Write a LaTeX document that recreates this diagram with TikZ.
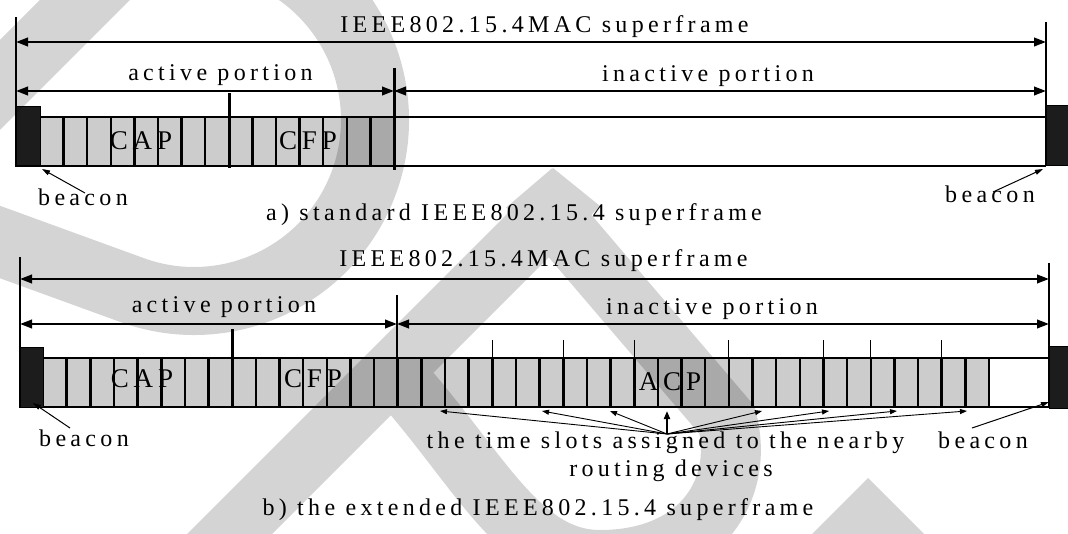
\documentclass[tikz,border=0pt]{standalone}
\usepackage{fontspec}
\setmainfont{Liberation Serif}
\newfontfamily\lsp{Liberation Serif}[LetterSpace=18]
\newfontfamily\lspw{Liberation Serif}[LetterSpace=18]
\usetikzlibrary{arrows.meta}
\definecolor{slotgray}{gray}{0.8}
\definecolor{bk}{gray}{0.11}
\begin{document}
\begin{tikzpicture}[x=1pt,y=-1pt]
\tikzset{
 dimline/.style={line width=2.4pt, {Triangle[length=12pt,width=8.5pt]}-{Triangle[length=12pt,width=8.5pt]}},
 endline/.style={line width=2.4pt},
 divider/.style={line width=3pt},
 thinline/.style={line width=1.3pt},
 slotbox/.style={draw=black, line width=2.5pt, fill=slotgray},
 beaconbox/.style={draw=black, line width=1pt, fill=bk},
 txt/.style={font=\lsp\fontsize{24}{28}\selectfont, anchor=base, inner sep=0pt},
 seg/.style={font=\lspw\fontsize{27}{30}\selectfont, anchor=base, inner sep=0pt},
 ptr/.style={line width=1pt, -{Triangle[length=8pt,width=5pt]}},
 fanptr/.style={line width=0.9pt, -{Triangle[length=7pt,width=5pt]}},
 tick/.style={line width=1.2pt},
}
\useasboundingbox (0,0) rectangle (1068,534);
\fill[white] (0,0) rectangle (1068,534);

% ================= a) standard superframe =================
\foreach \i in {0,...,14}
  \filldraw[slotbox] ({40+\i*23.6},117) rectangle ({40+(\i+1)*23.6},166);
\draw[thinline] (40,117) -- (1046,117);
\draw[thinline] (16,166) -- (1046,166);
\filldraw[beaconbox] (16,107) rectangle (40,166);
\filldraw[beaconbox] (1046,106) rectangle (1070,166);
\draw[endline] (16,17) -- (16,167);
\draw[line width=2pt] (1046,22) -- (1046,166);
\draw[divider] (229,93) -- (229,168);
\draw[divider] (394,68) -- (394,170);

\coordinate (aL) at (16,42);
\coordinate (aR) at (1046,42);
\coordinate (aL2) at (16,91);
\coordinate (aM2) at (394,91);
\coordinate (aR2) at (1046,91);
\draw[dimline] (aL) -- (aR);
\draw[dimline] (aL2) -- (aM2);
\draw[dimline] (aM2) -- (aR2);

\node[txt] (atitle) at (544.5,33) {IEEE802.15.4MAC superframe};
\node[txt] (aact) at (220.5,81) {active portion};
\node[txt] (ainact) at (708,82) {inactive portion};
\node[seg] (acap) at (141,150) {CAP};
\node[seg] (acfp) at (308,150) {CFP};
\node[txt] (abl) at (83,206) {beacon};
\node[txt] (abr) at (990,203) {beacon};
\node[txt] (acap2) at (514,221) {a) standard IEEE802.15.4 superframe};

\coordinate (ablt) at (85,193);
\coordinate (ablh) at (42,169);
\coordinate (abrt) at (993,192);
\coordinate (abrh) at (1043,169);
\draw[ptr] (ablt) -- (ablh);
\draw[ptr] (abrt) -- (abrh);

% ================= b) extended superframe =================
\foreach \i in {0,...,39}
  \filldraw[slotbox] ({43+\i*23.65},358) rectangle ({43+(\i+1)*23.65},407);
\draw[line width=2pt] (43,358) -- (1049,358);
\draw[line width=2.2pt] (20,407) -- (1049,407);
\filldraw[beaconbox] (20,348) rectangle (43,407);
\filldraw[beaconbox] (1049,347) rectangle (1070,408);
\draw[line width=2pt] (20,257) -- (20,408);
\draw[line width=2pt] (1049,263) -- (1049,408);
\draw[divider] (232,329) -- (232,407);
\draw[line width=2pt] (397,295) -- (397,407);
\foreach \n in {19,22,25,29,33,35,38}
  \draw[tick] ({43+\n*23.65},340) -- ({43+\n*23.65},358);

\coordinate (bL) at (20,279);
\coordinate (bR) at (1049,279);
\coordinate (bL2) at (20,324);
\coordinate (bM2) at (397,324);
\coordinate (bR2) at (1049,324);
\draw[dimline] (bL) -- (bR);
\draw[dimline] (bL2) -- (bM2);
\draw[dimline] (bM2) -- (bR2);

\node[txt] (btitle) at (543.5,267) {IEEE802.15.4MAC superframe};
\node[txt] (bact) at (224,313) {active portion};
\node[txt] (binact) at (712,315) {inactive portion};
\node[seg] (bcap) at (142,388) {CAP};
\node[seg] (bcfp) at (313,388) {CFP};
\node[seg] (bacp) at (670,390) {ACP};
\node[txt] (bbl) at (84,446) {beacon};
\node[txt] (bbr) at (983,448) {beacon};
\node[txt] (bslots) at (665.5,448) {the time slots assigned to the nearby};
\node[txt] (brout) at (671,476) {routing devices};
\node[txt] (bcap2) at (538,515) {b) the extended IEEE802.15.4 superframe};

\coordinate (bblt) at (70,428);
\coordinate (bblh) at (33,403);
\coordinate (bbrt) at (972,428);
\coordinate (bbrh) at (1049,402);
\draw[ptr] (bblt) -- (bblh);
\draw[ptr] (bbrt) -- (bbrh);

\coordinate (fan) at (667,434);
\foreach \x in {440,542,610,762,829,897,967}
  \draw[fanptr] (fan) -- (\x,411);
\coordinate (up) at (667,411);
\draw[line width=1.8pt, -{Triangle[length=8pt,width=6pt]}] (fan) -- (up);

% ================= watermark =================
\begin{scope}[transparency group, opacity=0.17]
 \clip (0,0) rectangle (1068,534);
 \fill (40,0) -- (130,0) -- (0,130) -- (0,40) -- cycle;
 \fill (194,120) ++(-60:215) arc[start angle=-60,end angle=110,radius=215]
   -- (-20,271) -- (-20,198.5) -- (143.7,258.1)
   arc[start angle=110,end angle=-60,radius=147] -- cycle;
 \fill (553,168) -- (153,568) -- (238,568) -- (600,206) -- cycle;
 \draw[line width=60pt] (529,188) -- (727,420)
   .. controls (745,490) and (700,560) .. (600,560)
   .. controls (520,560) and (480,470) .. (400,380);
 \fill (868,478) -- (930,540) -- (806,540) -- cycle;
\end{scope}
\end{tikzpicture}
\end{document}
